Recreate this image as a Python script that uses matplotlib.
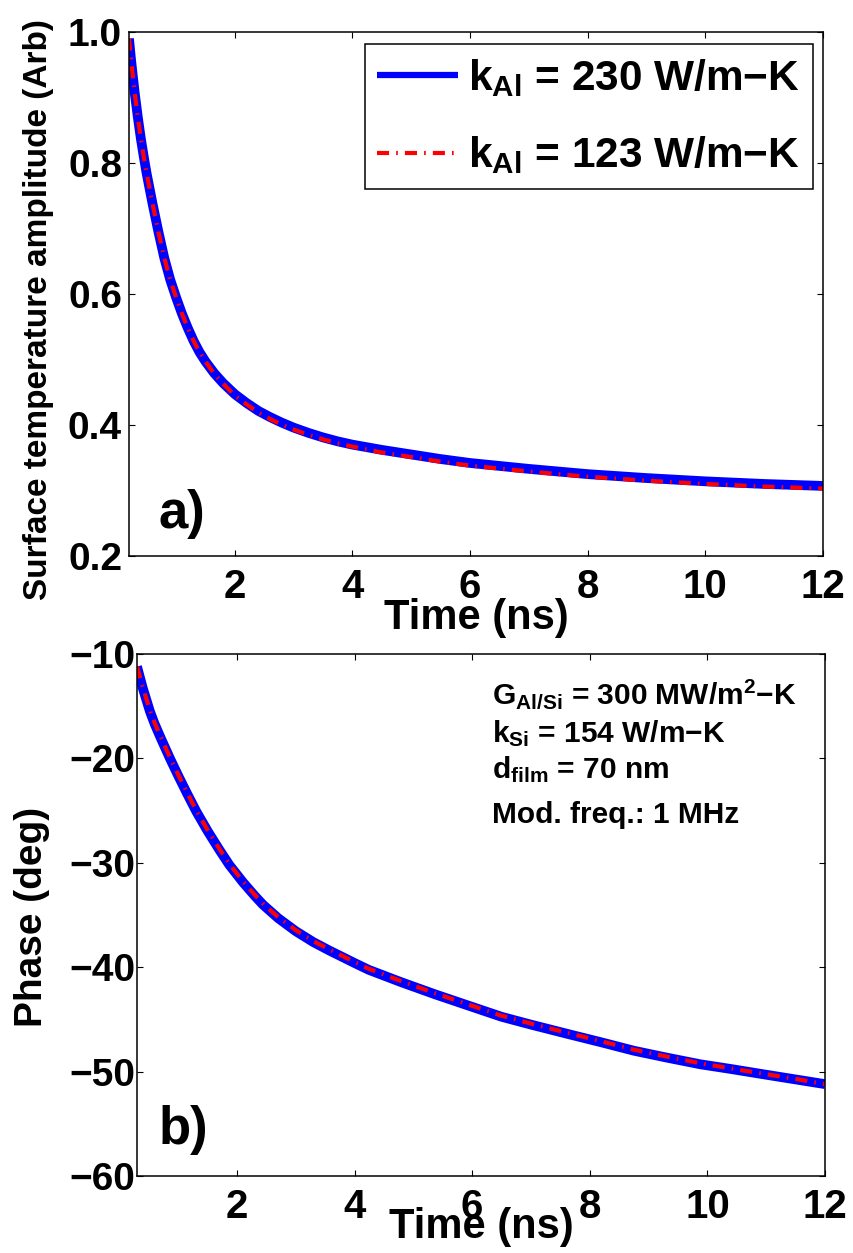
import matplotlib as mpl
mpl.use("Agg")
import matplotlib.pyplot as plt

# surface temperature amplitude vs time
amp_t = [0.2, 0.23, 0.26, 0.3, 0.35, 0.4, 0.45, 0.5, 0.6, 0.7, 0.8, 0.9, 1.0, 1.1, 1.2, 1.3, 1.4, 1.5,
         1.65, 1.8, 2.0, 2.2, 2.4, 2.6, 2.8, 3.0, 3.25, 3.5, 3.75, 4.0, 4.5, 5.0, 5.5, 6.0,
         7.0, 8.0, 9.0, 10.0, 11.0, 12.0]
amp_230 = [0.99, 0.962, 0.937, 0.905, 0.870, 0.838, 0.810, 0.784, 0.738, 0.695, 0.655, 0.622, 0.595,
           0.570, 0.548, 0.528, 0.511, 0.497, 0.479, 0.464, 0.447, 0.4335, 0.4215, 0.412, 0.4035, 0.396,
           0.388, 0.381, 0.375, 0.370, 0.362, 0.355, 0.348, 0.342, 0.333, 0.325, 0.319, 0.314, 0.310, 0.307]
amp_123 = [0.99, 0.962, 0.937, 0.905, 0.870, 0.838, 0.810, 0.784, 0.738, 0.695, 0.655, 0.622, 0.595,
           0.570, 0.548, 0.528, 0.511, 0.497, 0.478, 0.463, 0.445, 0.4315, 0.419, 0.409, 0.4005, 0.393,
           0.385, 0.378, 0.372, 0.367, 0.358, 0.351, 0.344, 0.338, 0.329, 0.321, 0.315, 0.310, 0.306, 0.303]

# phase vs time
ph_t = [0.3, 0.4, 0.52, 0.6, 0.7, 0.86, 1.0, 1.15, 1.31, 1.5, 1.7, 1.87, 2.1, 2.3, 2.44, 2.7, 3.0,
        3.3, 3.57, 4.0, 4.24, 4.8, 5.37, 6.0, 6.5, 7.0, 7.63, 8.2, 8.75, 9.3, 9.88, 10.4, 11.0, 11.5, 12.0]
ph_230 = [-11.2, -13.3, -15.5, -16.7, -18.0, -20.0, -21.65, -23.35, -25.1, -26.95, -28.75, -30.2,
          -31.85, -33.15, -34.0, -35.3, -36.55, -37.6, -38.4, -39.6, -40.25, -41.45, -42.6, -43.8,
          -44.75, -45.5, -46.4, -47.2, -48.0, -48.65, -49.3, -49.75, -50.3, -50.75, -51.2]
ph_123 = [-11.2, -13.2, -15.4, -16.6, -17.9, -19.9, -21.55, -23.25, -25.0, -26.85, -28.65, -30.1,
          -31.75, -33.05, -33.9, -35.2, -36.45, -37.5, -38.3, -39.5, -40.15, -41.35, -42.5, -43.7,
          -44.65, -45.4, -46.3, -47.1, -47.9, -48.55, -49.2, -49.7, -50.25, -50.7, -51.2]

xticks = [2, 4, 6, 8, 10, 12]
amp_yticks = [0.2, 0.4, 0.6, 0.8, 1.0]
ph_yticks = [-60, -50, -40, -30, -20, -10]
labels = [r"$\mathbf{k_{Al}}$ = 230 W/m−K", r"$\mathbf{k_{Al}}$ = 123 W/m−K"]
notes = [r"$\mathbf{G_{Al/Si}}$ = 300 MW/m$\mathbf{^2}$−K",
         r"$\mathbf{k_{Si}}$ = 154 W/m−K",
         r"$\mathbf{d_{film}}$ = 70 nm",
         "Mod. freq.: 1 MHz"]

plt.rcParams['font.family'] = ['Liberation Sans', 'DejaVu Sans']
plt.rcParams['font.weight'] = 'bold'
plt.rcParams['mathtext.fontset'] = 'custom'
plt.rcParams['mathtext.rm'] = 'Liberation Sans:bold'
plt.rcParams['mathtext.bf'] = 'Liberation Sans:bold'
plt.rcParams['mathtext.it'] = 'Liberation Sans:bold'

W, H = 854, 1253
fig = plt.figure(figsize=(W / 100, H / 100), dpi=100)

def px(x, y):
    return x / W, 1 - y / H

red_ls = (0, (2.9, 1.7, 0.4, 1.7))

def style(ax, ylpad):
    for s in ax.spines.values():
        s.set_linewidth(1.1)
    ax.tick_params(direction='in', top=True, right=True, length=4, width=0.8)
    ax.tick_params(axis='x', labelsize=29, pad=9)
    ax.tick_params(axis='y', labelsize=28, pad=ylpad)
    ax.set_xticks(xticks)
    ax.set_xticklabels([str(v) for v in xticks])

# top panel
ax1 = fig.add_axes([129 / W, 1 - 556 / H, 694 / W, 524 / H])
l1, = ax1.plot(amp_t, amp_230, color='blue', lw=7, solid_capstyle='butt')
l2, = ax1.plot(amp_t, amp_123, color='red', lw=3, ls=red_ls)
ax1.set_xlim(0.2, 12)
ax1.set_ylim(0.2, 1.0)
style(ax1, 5)
ax1.set_yticks(amp_yticks)
ax1.set_yticklabels(["%.1f" % v for v in amp_yticks])
ax1.set_xlabel("Time (ns)", fontsize=30, fontweight='bold', va='baseline')
ax1.xaxis.set_label_coords(0.5, (556 - 629) / 524)
ax1.set_ylabel("Surface temperature amplitude (Arb)", fontsize=24, fontweight='bold', va='center')
ax1.yaxis.set_label_coords((39 - 129) / 694, (556 - 310) / 524)
leg = ax1.legend([l1, l2], labels, loc='upper right', bbox_to_anchor=(0.9856, 0.977),
                 borderaxespad=0, prop={'size': 30.5, 'weight': 'bold'}, handlelength=1.9,
                 handletextpad=0.25, labelspacing=0.85, borderpad=0.3, fancybox=False,
                 framealpha=1, edgecolor='black')
leg.get_frame().set_linewidth(1.1)
leg.get_lines()[0].set_linewidth(4.5)
fig.text(*px(158, 528), "a)", fontsize=38, fontweight='bold', va='baseline')

# bottom panel
ax2 = fig.add_axes([137 / W, 1 - 1176 / H, 688 / W, 522 / H])
ax2.plot(ph_t, ph_230, color='blue', lw=7, solid_capstyle='butt')
ax2.plot(ph_t, ph_123, color='red', lw=3, ls=red_ls)
ax2.set_xlim(0.3, 12)
ax2.set_ylim(-60, -10)
style(ax2, 1)
ax2.set_yticks(ph_yticks)
ax2.set_yticklabels([str(v).replace('-', '−') for v in ph_yticks])
ax2.set_xlabel("Time (ns)", fontsize=30, fontweight='bold', va='baseline')
ax2.xaxis.set_label_coords(0.5, (1176 - 1238) / 522)
ax2.set_ylabel("Phase (deg)", fontsize=28, fontweight='bold', va='center')
ax2.yaxis.set_label_coords((32 - 137) / 688, (1176 - 917) / 522)
for txt, yb in zip(notes, [704, 742, 778, 823]):
    fig.text(*px(492, yb), txt, fontsize=21.5, fontweight='bold', va='baseline')
fig.text(*px(159, 1144), "b)", fontsize=38, fontweight='bold', va='baseline')

fig.savefig("out.png", dpi=100)
